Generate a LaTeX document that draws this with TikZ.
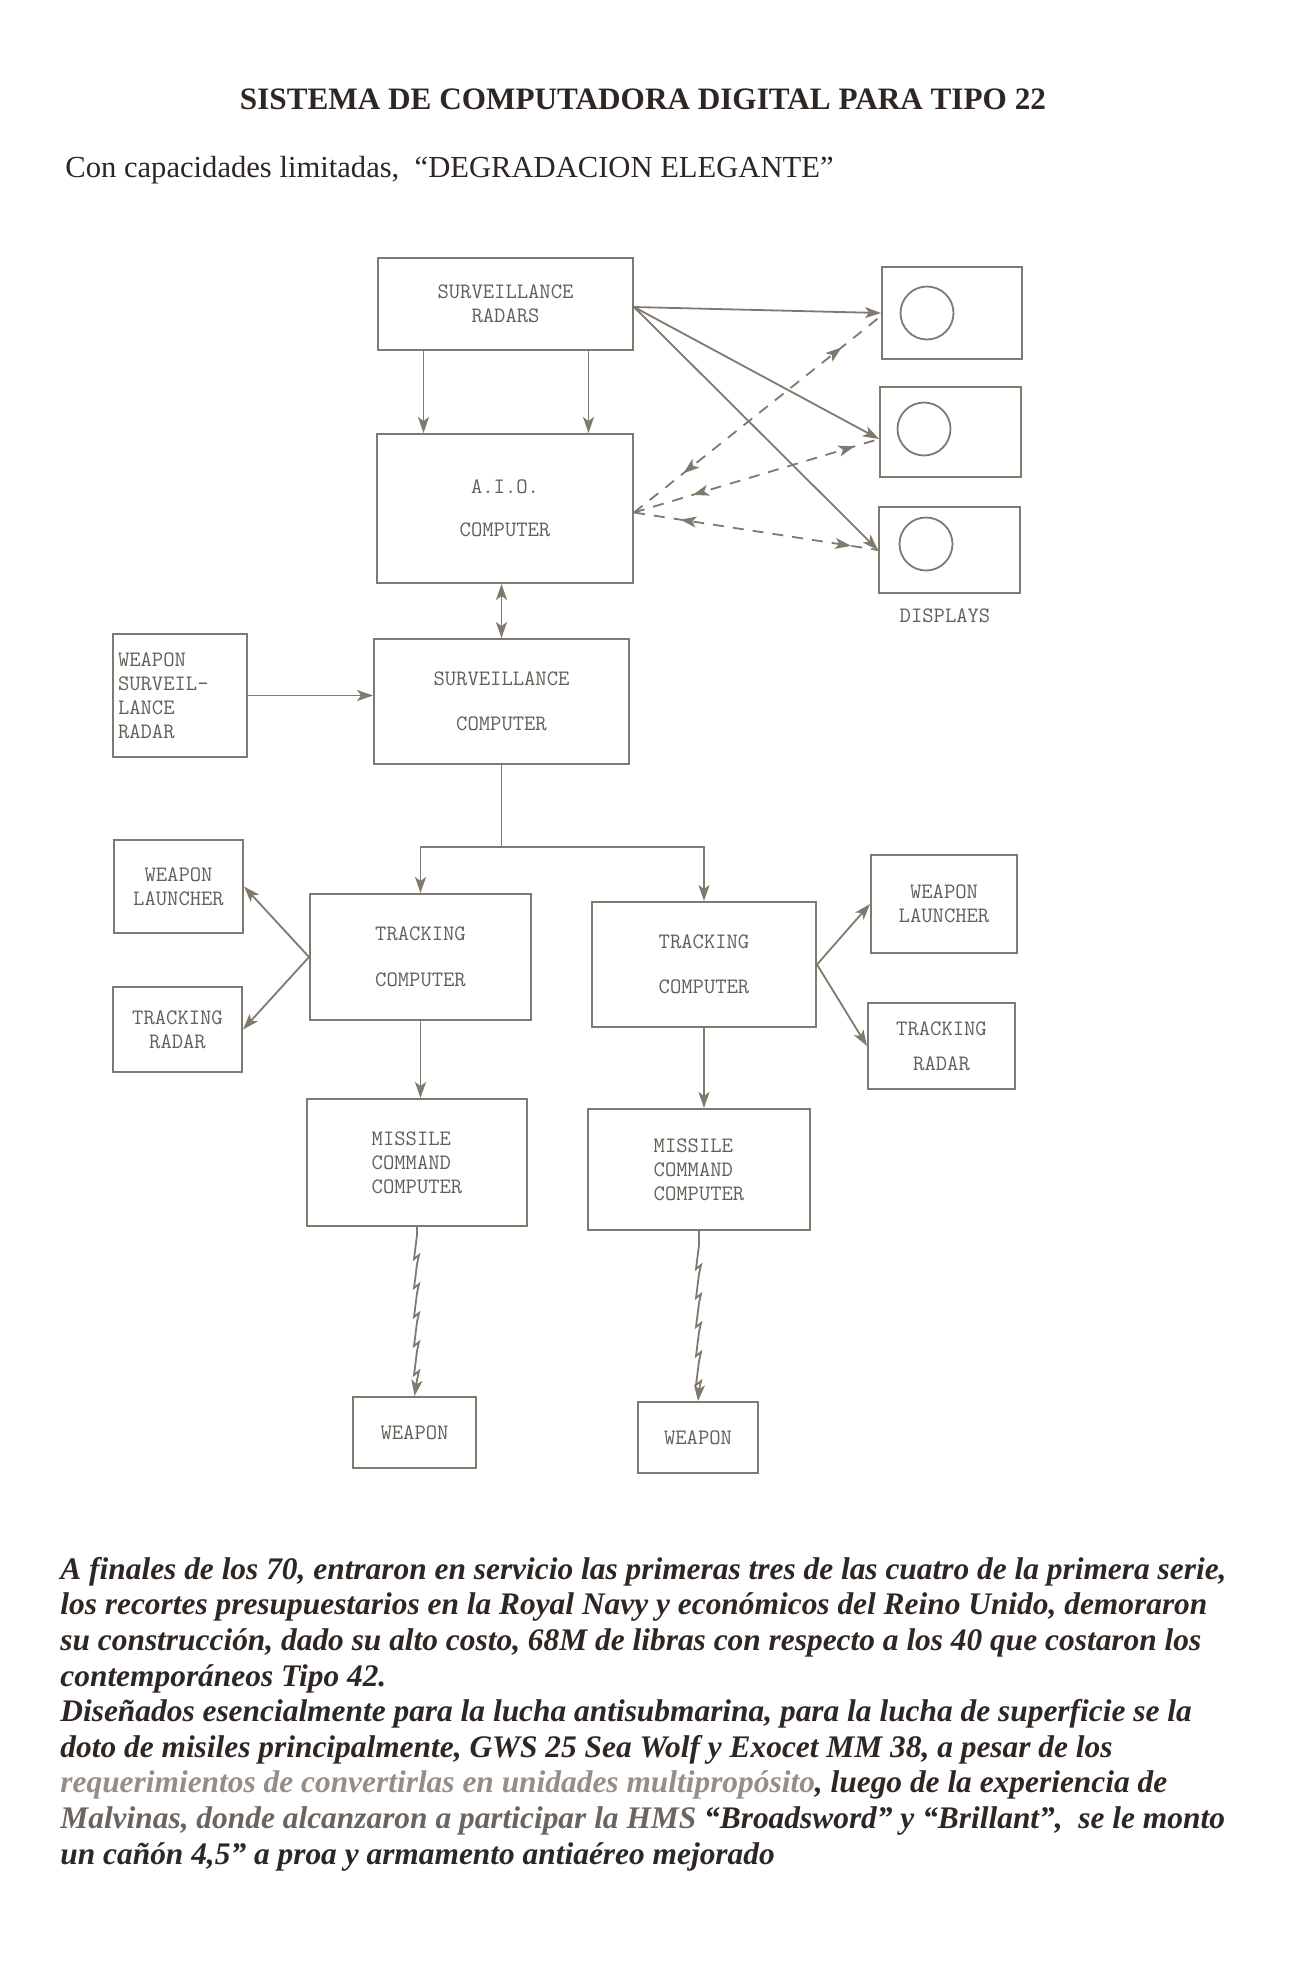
\documentclass[tikz,border=0pt]{standalone}
\usepackage{fontspec}
\setmainfont{Liberation Serif}
\usetikzlibrary{arrows.meta,decorations.markings}
\definecolor{inkgray}{RGB}{128,121,110}
\definecolor{labelgray}{RGB}{98,94,88}
\definecolor{printdark}{RGB}{45,38,34}
\definecolor{paleprint}{RGB}{150,142,134}
\definecolor{halfprint}{RGB}{108,100,94}
\newcommand{\boxfont}{\fontsize{11}{12}\selectfont\ttfamily}

\begin{document}
\begin{tikzpicture}[x=0.5pt,y=-0.5pt]
  \tikzset{block/.style={draw=inkgray,line width=1pt,inner sep=0pt,align=center,font=\boxfont,text=labelgray}}
  \tikzset{tube/.style={draw=inkgray,line width=0.9pt,circle,inner sep=0pt,minimum size=26.5pt}}
  \tikzset{link/.style={draw=inkgray,line width=0.9pt,>={Stealth[length=8pt,width=5.5pt,inset=2pt]}}}
  \tikzset{bothways/.style 2 args={link,dash pattern=on 5.5pt off 4.5pt,postaction={decorate},
      decoration={markings,mark=at position #1 with {\arrowreversed{>}},mark=at position #2 with {\arrow{>}}}}}
  \useasboundingbox (0,0) rectangle (1313,1972);

  \node[font=\fontsize{15.6}{18}\selectfont\bfseries,text=printdark,anchor=base] (title) at (643,109)
    {SISTEMA DE COMPUTADORA DIGITAL PARA TIPO 22};
  \node[font=\fontsize{15.3}{18}\selectfont,text=printdark,anchor=base west,inner sep=0pt] (subtitle) at (65,177)
    {Con capacidades limitadas,\ \ “DEGRADACION ELEGANTE”};

  \node[block,minimum width=127.5pt,minimum height=46pt] (radars) at (505.5,304) {SURVEILLANCE\\RADARS};
  \node[block,minimum width=128pt,minimum height=74.5pt] (aio) at (505,508.5) {A.I.O.\\[9.5pt]COMPUTER};
  \node[block,minimum width=70pt,minimum height=46pt] (disp1) at (952,313) {};
  \node[block,minimum width=70.5pt,minimum height=45pt] (disp2) at (950.5,432) {};
  \node[block,minimum width=70.5pt,minimum height=43pt] (disp3) at (949.5,550) {};
  \node[tube] (tube1) at (927,313) {};
  \node[tube] (tube2) at (924,429) {};
  \node[tube] (tube3) at (926,544) {};
  \node[font=\boxfont,text=labelgray] (displays) at (945,616) {DISPLAYS};

  \node[block,minimum width=127.5pt,minimum height=62.5pt] (survcomp) at (501.5,701.5) {SURVEILLANCE\\[10.5pt]COMPUTER};
  \node[block,minimum width=67pt,minimum height=61.5pt,align=left,text width=62pt] (wsr) at (180,695.5)
    {WEAPON\\SURVEIL-\\LANCE\\RADAR};

  \node[block,minimum width=110.5pt,minimum height=63pt] (tcl) at (420.5,957) {TRACKING\\[11pt]COMPUTER};
  \node[block,minimum width=112pt,minimum height=62.5pt] (tcr) at (704,964.5) {TRACKING\\[10.5pt]COMPUTER};
  \node[block,minimum width=64.5pt,minimum height=46.5pt] (wll) at (178.5,886.5) {WEAPON\\LAUNCHER};
  \node[block,minimum width=64.5pt,minimum height=42.5pt] (trl) at (177.5,1029.5) {TRACKING\\RADAR};
  \node[block,minimum width=73pt,minimum height=49pt] (wlr) at (944,904) {WEAPON\\LAUNCHER};
  \node[block,minimum width=73.5pt,minimum height=43pt] (trr) at (941.5,1046) {TRACKING\\[5.5pt]RADAR};

  \node[block,minimum width=110pt,minimum height=63.5pt,align=left] (mcl) at (417,1162.5) {MISSILE\\COMMAND\\COMPUTER};
  \node[block,minimum width=111pt,minimum height=60.5pt,align=left] (mcr) at (699,1169.5) {MISSILE\\COMMAND\\COMPUTER};
  \node[block,minimum width=61.5pt,minimum height=35.5pt] (wl) at (414.5,1432.5) {WEAPON};
  \node[block,minimum width=60pt,minimum height=35.5pt] (wr) at (698,1437.5) {WEAPON};

  \draw[link,->] ([xshift=-41pt]radars.south) -- ([xshift=-41pt]radars.south |- aio.north);
  \draw[link,->] ([xshift=41.5pt]radars.south) -- ([xshift=41.5pt]radars.south |- aio.north);
  \draw[link,->] ([yshift=-1.5pt]radars.east) -- (disp1.west);
  \draw[link,->] ([yshift=-1.5pt]radars.east) -- ([yshift=-3.5pt]disp2.west);
  \draw[link,->] ([yshift=-1.5pt]radars.east) -- (disp3.west);
  \draw[bothways={0.2}{0.84}] ([yshift=-2pt]aio.east) -- ([yshift=-1.5pt]disp1.west);
  \draw[bothways={0.24}{0.9}] ([yshift=-2pt]aio.east) -- ([yshift=-3.5pt]disp2.west);
  \draw[bothways={0.19}{0.89}] ([yshift=-2pt]aio.east) -- (disp3.west);
  \draw[link,<->] (survcomp.north |- aio.south) -- (survcomp.north);
  \draw[link,->] (wsr.east) -- (wsr.east -| survcomp.west);

  \coordinate (fork) at ([yshift=-41pt]survcomp.south);
  \draw[link] (survcomp.south) -- (fork);
  \draw[link,->] (fork) -| (tcl.north);
  \draw[link,->] (fork) -| (tcr.north);
  \draw[link,->] (tcl.west) -- (wll.east);
  \draw[link,->] (tcl.west) -- (trl.east);
  \draw[link,->] (tcr.east) -- (wlr.west);
  \draw[link,->] (tcr.east) -- (trr.west);
  \draw[link,->] (tcl.south) -- (tcl.south |- mcl.north);
  \draw[link,->] (tcr.south) -- (tcr.south |- mcr.north);
  \draw[link,->] (mcl.south) -- ++(0,8) \foreach \k in {1,...,5}{ -- ++(-3,24) -- ++(5,-4) -- ++(-2,9)} -- (wl.north);
  \draw[link,->] (mcr.south) -- ++(0,14) \foreach \k in {1,...,5}{ -- ++(-3,24) -- ++(5,-4) -- ++(-2,9)} -- (wr.north);

  \node[font=\fontsize{15.7}{17.8}\selectfont\bfseries\itshape,text=printdark,anchor=base west,align=left,inner sep=0pt] (story) at (60,1864)
    {A finales de los 70, entraron en servicio las primeras tres de las cuatro de la primera serie,\\
     los recortes presupuestarios en la Royal Navy y económicos del Reino Unido, demoraron\\
     su construcción, dado su alto costo, 68M de libras con respecto a los 40 que costaron los\\
     contemporáneos Tipo 42.\\
     Diseñados esencialmente para la lucha antisubmarina, para la lucha de superficie se la\\
     doto de misiles principalmente, GWS 25 Sea Wolf y Exocet MM 38, a pesar de los\\
     \textcolor{paleprint}{requerimientos de convertirlas en unidades multipropósito}, luego de la experiencia de\\
     \textcolor{halfprint}{Malvinas, donde alcanzaron a participar la HMS} “Broadsword” y “Brillant”,\ \ se le monto\\
     un cañón 4,5” a proa y armamento antiaéreo mejorado};
\end{tikzpicture}
\end{document}
